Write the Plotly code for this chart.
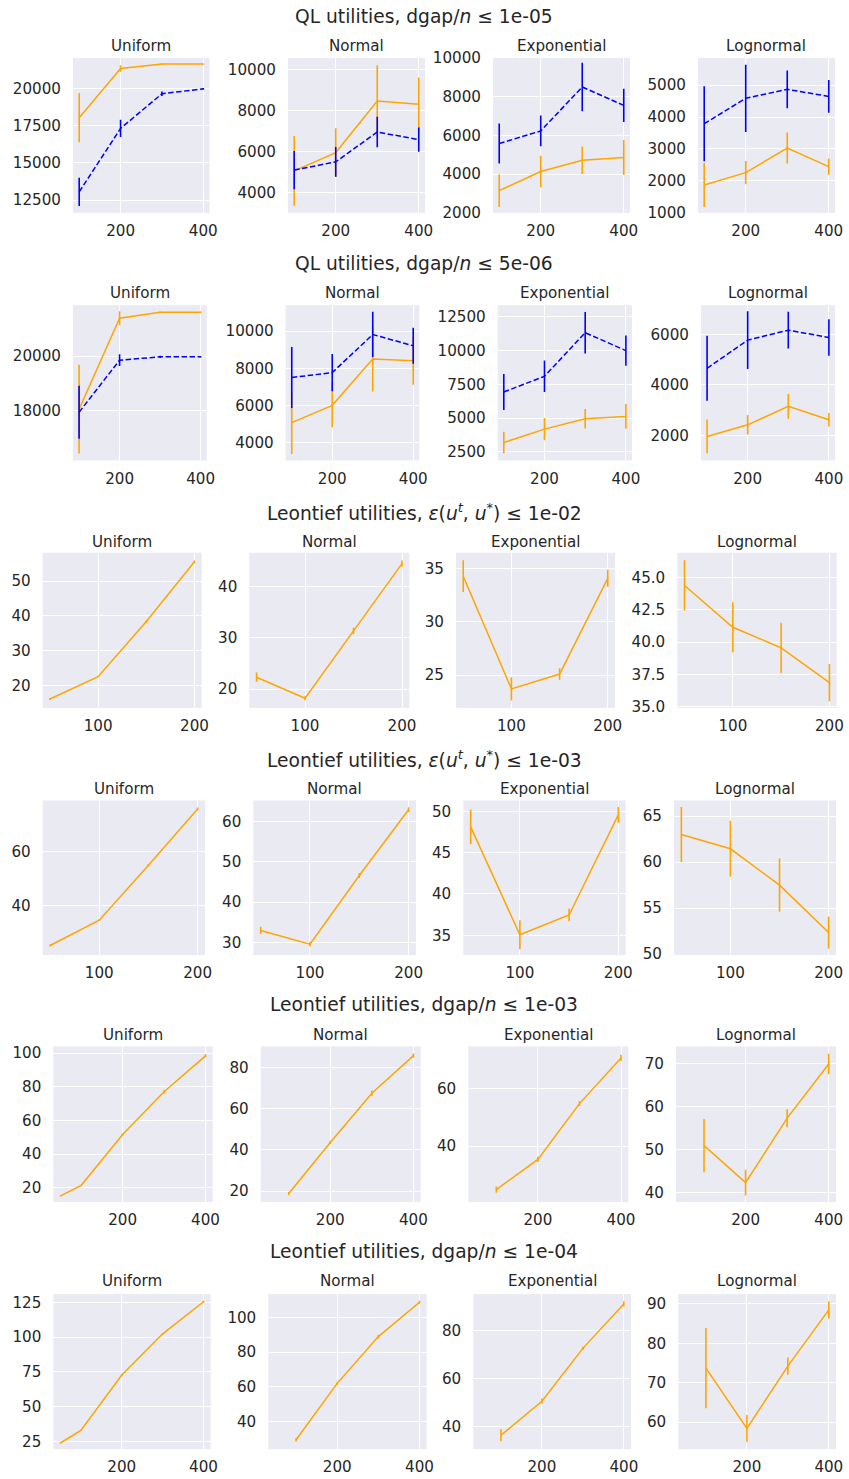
import plotly.graph_objects as go

# ---------------- data ----------------
DISTS = ["Uniform", "Normal", "Exponential", "Lognormal"]
ROW_TITLES = [
    "QL utilities, dgap/<i>n</i> ≤ 1e-05",
    "QL utilities, dgap/<i>n</i> ≤ 5e-06",
    "Leontief utilities, <i>ε</i>(<i>u</i><sup><i>t</i></sup>, <i>u</i><sup>*</sup>) ≤ 1e-02",
    "Leontief utilities, <i>ε</i>(<i>u</i><sup><i>t</i></sup>, <i>u</i><sup>*</sup>) ≤ 1e-03",
    "Leontief utilities, dgap/<i>n</i> ≤ 1e-03",
    "Leontief utilities, dgap/<i>n</i> ≤ 1e-04",
]

x_ql = [100, 200, 300, 400]
x_eps = [50, 100, 150, 200]
x_dgap_uni = [50, 100, 200, 300, 400]
x_dgap = [100, 200, 300, 400]

# Row 1: QL, dgap/n <= 1e-05  (orange solid, blue dashed)
r1_uni_o = [18050, 21370, 21670, 21670]; r1_uni_oe = [1650, 220, 60, 40]
r1_uni_b = [13050, 17330, 19670, 20000]; r1_uni_be = [950, 580, 150, 60]
r1_nor_o = [5060, 5950, 8450, 8300];     r1_nor_oe = [1690, 1180, 1740, 1300]
r1_nor_b = [5100, 5500, 6950, 6580];     r1_nor_be = [925, 725, 740, 590]
r1_exp_o = [3150, 4140, 4720, 4860];     r1_exp_oe = [840, 815, 710, 900]
r1_exp_b = [5580, 6230, 8500, 7550];     r1_exp_be = [1030, 790, 1250, 860]
r1_log_o = [1875, 2260, 3030, 2450];     r1_log_oe = [690, 365, 485, 255]
r1_log_b = [3790, 4585, 4865, 4645];     r1_log_be = [1170, 1050, 590, 510]

# Row 2: QL, dgap/n <= 5e-06
r2_uni_o = [18050, 21390, 21610, 21610]; r2_uni_oe = [1630, 260, 30, 30]
r2_uni_b = [17940, 19850, 19975, 19975]; r2_uni_be = [970, 215, 40, 30]
r2_nor_o = [5070, 6000, 8500, 8410];     r2_nor_oe = [1690, 1200, 1750, 1300]
r2_nor_b = [7500, 7765, 9820, 9210];     r2_nor_be = [1650, 1000, 1220, 970]
r2_exp_o = [3190, 4180, 4950, 5120];     r2_exp_oe = [800, 830, 730, 920]
r2_exp_b = [6930, 8100, 11330, 10000];   r2_exp_be = [1340, 1170, 1540, 1130]
r2_log_o = [1960, 2420, 3150, 2620];     r2_log_oe = [670, 385, 490, 265]
r2_log_b = [4660, 5775, 6170, 5880];     r2_log_be = [1285, 1140, 730, 720]

# Row 3: Leontief, eps <= 1e-02
r3_uni = [16.2, 22.6, 38.4, 55.5];   r3_uni_e = [0.3, 0.2, 0.4, 0.4]
r3_nor = [22.3, 18.2, 31.3, 44.4];   r3_nor_e = [0.9, 0.4, 0.6, 0.6]
r3_exp = [34.3, 23.7, 25.1, 34.1];   r3_exp_e = [1.5, 1.1, 0.55, 0.8]
r3_log = [44.4, 41.15, 39.55, 36.85]; r3_log_e = [1.95, 1.95, 1.95, 1.45]

# Row 4: Leontief, eps <= 1e-03
r4_uni = [25.4, 34.7, 54.9, 75.6];   r4_uni_e = [0.4, 0.3, 0.5, 0.5]
r4_nor = [33.0, 29.6, 46.6, 62.9];   r4_nor_e = [0.9, 0.6, 0.6, 0.6]
r4_exp = [48.1, 35.05, 37.45, 49.55]; r4_exp_e = [2.1, 1.75, 0.75, 0.95]
r4_log = [63.0, 61.45, 57.5, 52.35]; r4_log_e = [3.0, 3.05, 2.9, 1.75]

# Row 5: Leontief, dgap/n <= 1e-03
r5_uni = [15.1, 21.4, 51.6, 77.0, 98.4]; r5_uni_e = [0.3, 0.4, 0.8, 0.9, 1.0]
r5_nor = [18.8, 43.6, 67.5, 85.7];       r5_nor_e = [0.7, 0.8, 1.2, 1.0]
r5_exp = [24.9, 35.4, 54.8, 70.7];       r5_exp_e = [1.1, 0.9, 0.8, 1.1]
r5_log = [50.9, 42.3, 57.3, 69.9];       r5_log_e = [6.2, 3.0, 2.1, 2.4]

# Row 6: Leontief, dgap/n <= 1e-04
r6_uni = [23.8, 32.9, 72.8, 102.4, 125.5]; r6_uni_e = [0.3, 0.5, 0.8, 0.6, 0.8]
r6_nor = [29.4, 61.9, 88.9, 108.7];        r6_nor_e = [1.0, 0.8, 1.1, 0.9]
r6_exp = [36.25, 50.5, 72.6, 91.2];        r6_exp_e = [2.5, 1.1, 0.7, 1.1]
r6_log = [73.7, 58.4, 74.2, 88.5];         r6_log_e = [10.2, 3.4, 2.2, 2.2]

# ---------------- layout config ----------------
W, H = 849, 1479
ORANGE = "#FFA500"
BLUE = "#0000FF"
TXT = "#262626"
BG = "#EAEAF2"
FONT = "DejaVu Sans"
DASH = "5.5px,2.5px"

# correction for the offset/scale observed in the photographed page
OX, OY, SC = 0.0, 8.0, 0.9906


def fx(px):
    return ((px - OX) / SC) / W


def fy(py):
    return 1 - ((py - OY) / SC) / H


def fs(size):
    return size / SC


# pixel boxes (reference pixels): (top, bottom, [(left,right) x4], row-title y, subplot-title y)
ROW_BOX = [
    (57, 212.5, [(73, 209.5), (288, 425), (493, 630), (698, 835)], 15.5, 45),
    (305, 460.7, [(73, 206.7), (285.7, 419.3), (497.7, 632), (701, 835)], 263, 293),
    (553.3, 709, [(42.7, 201.7), (249.3, 409.3), (456, 615), (677.3, 836.7)], 512, 542),
    (801.7, 956.7, [(42.7, 205), (253.3, 416), (463.3, 625.7), (674, 836)], 760, 790),
    (1048.3, 1204.3, [(53.3, 212.7), (260.7, 420.7), (468.3, 628.3), (676, 836)], 1006, 1037),
    (1296.7, 1452.3, [(53.3, 210.7), (268.3, 426.7), (473.3, 631), (678.3, 836)], 1254, 1284),
]
XRANGE = [[85, 415], [85, 415], [42.5, 207.5], [42.5, 207.5], [32.5, 417.5], [32.5, 417.5]]
XDTICK = [200, 200, 100, 100, 200, 200]
YRANGE = [
    [[11630, 22090], [3020, 10550], [2000, 10000], [1000, 5850]],
    [[16170, 21870], [3030, 11400], [1860, 13370], [1010, 7160]],
    [[13.6, 58.1], [16.3, 46.5], [21.9, 36.5], [34.87, 46.94]],
    [[21.9, 78.7], [26.9, 65.2], [32.6, 51.3], [49.9, 66.7]],
    [[11.5, 104], [14.7, 90.2], [20.6, 74.7], [37.8, 74]],
    [[19.3, 131], [23.9, 113.4], [30.4, 95.3], [53.1, 92.5]],
]
YDTICK = [
    [2500, 2000, 2000, 1000],
    [2000, 2000, 2500, 2000],
    [10, 10, 5, 2.5],
    [20, 10, 5, 5],
    [20, 20, 20, 10],
    [25, 20, 20, 10],
]
YFMT = [["d"] * 4, ["d"] * 4, ["d", "d", "d", ".1f"], ["d"] * 4, ["d"] * 4, ["d"] * 4]

# series table: per panel, list of (x, y, err, color, dash)
PANELS = [
    [[(x_ql, r1_uni_o, r1_uni_oe, ORANGE, "solid"), (x_ql, r1_uni_b, r1_uni_be, BLUE, DASH)],
     [(x_ql, r1_nor_o, r1_nor_oe, ORANGE, "solid"), (x_ql, r1_nor_b, r1_nor_be, BLUE, DASH)],
     [(x_ql, r1_exp_o, r1_exp_oe, ORANGE, "solid"), (x_ql, r1_exp_b, r1_exp_be, BLUE, DASH)],
     [(x_ql, r1_log_o, r1_log_oe, ORANGE, "solid"), (x_ql, r1_log_b, r1_log_be, BLUE, DASH)]],
    [[(x_ql, r2_uni_o, r2_uni_oe, ORANGE, "solid"), (x_ql, r2_uni_b, r2_uni_be, BLUE, DASH)],
     [(x_ql, r2_nor_o, r2_nor_oe, ORANGE, "solid"), (x_ql, r2_nor_b, r2_nor_be, BLUE, DASH)],
     [(x_ql, r2_exp_o, r2_exp_oe, ORANGE, "solid"), (x_ql, r2_exp_b, r2_exp_be, BLUE, DASH)],
     [(x_ql, r2_log_o, r2_log_oe, ORANGE, "solid"), (x_ql, r2_log_b, r2_log_be, BLUE, DASH)]],
    [[(x_eps, r3_uni, r3_uni_e, ORANGE, "solid")], [(x_eps, r3_nor, r3_nor_e, ORANGE, "solid")],
     [(x_eps, r3_exp, r3_exp_e, ORANGE, "solid")], [(x_eps, r3_log, r3_log_e, ORANGE, "solid")]],
    [[(x_eps, r4_uni, r4_uni_e, ORANGE, "solid")], [(x_eps, r4_nor, r4_nor_e, ORANGE, "solid")],
     [(x_eps, r4_exp, r4_exp_e, ORANGE, "solid")], [(x_eps, r4_log, r4_log_e, ORANGE, "solid")]],
    [[(x_dgap_uni, r5_uni, r5_uni_e, ORANGE, "solid")], [(x_dgap, r5_nor, r5_nor_e, ORANGE, "solid")],
     [(x_dgap, r5_exp, r5_exp_e, ORANGE, "solid")], [(x_dgap, r5_log, r5_log_e, ORANGE, "solid")]],
    [[(x_dgap_uni, r6_uni, r6_uni_e, ORANGE, "solid")], [(x_dgap, r6_nor, r6_nor_e, ORANGE, "solid")],
     [(x_dgap, r6_exp, r6_exp_e, ORANGE, "solid")], [(x_dgap, r6_log, r6_log_e, ORANGE, "solid")]],
]

fig = go.Figure()
layout = dict(
    width=W, height=H, margin=dict(l=0, r=0, t=0, b=0),
    paper_bgcolor="white", plot_bgcolor=BG, showlegend=False,
    font=dict(family=FONT, color=TXT, size=fs(15)),
)
annotations = []

k = 0
for r in range(6):
    top, bottom, cols, ty, sty = ROW_BOX[r]
    annotations.append(dict(text=ROW_TITLES[r], x=fx(424.5), y=fy(ty), xref="paper", yref="paper",
                            xanchor="center", yanchor="middle", showarrow=False,
                            font=dict(size=fs(18.5), family=FONT, color=TXT)))
    for c in range(4):
        k += 1
        left, right = cols[c]
        xa = "xaxis" if k == 1 else f"xaxis{k}"
        ya = "yaxis" if k == 1 else f"yaxis{k}"
        xref = "x" if k == 1 else f"x{k}"
        yref = "y" if k == 1 else f"y{k}"
        layout[xa] = dict(domain=[fx(left), fx(right)], anchor=yref, range=XRANGE[r],
                          tick0=0, dtick=XDTICK[r], showgrid=True, gridcolor="white", gridwidth=1,
                          zeroline=False, showline=False, ticks="outside", ticklen=4,
                          tickcolor="rgba(0,0,0,0)", tickfont=dict(size=fs(15), color=TXT, family=FONT))
        layout[ya] = dict(domain=[fy(bottom), fy(top)], anchor=xref, range=YRANGE[r][c],
                          tick0=0, dtick=YDTICK[r][c], tickformat=YFMT[r][c],
                          showgrid=True, gridcolor="white", gridwidth=1,
                          zeroline=False, showline=False, ticks="outside", ticklen=8,
                          tickcolor="rgba(0,0,0,0)", tickfont=dict(size=fs(15), color=TXT, family=FONT))
        annotations.append(dict(text=DISTS[c], x=fx((left + right) / 2), y=fy(sty),
                                xref="paper", yref="paper", xanchor="center", yanchor="middle",
                                showarrow=False, font=dict(size=fs(15), family=FONT, color=TXT)))
        for (xs, ys, es, color, dash) in PANELS[r][c]:
            fig.add_trace(go.Scatter(
                x=xs, y=ys, mode="lines", xaxis=xref, yaxis=yref,
                line=dict(color=color, width=1.5, dash=dash),
                error_y=dict(type="data", array=es, visible=True, color=color, thickness=1.6, width=0),
                hoverinfo="skip"))

layout["annotations"] = annotations
fig.update_layout(**layout)

RESET_JS = (
    "var s=document.createElement('style');"
    "s.textContent='html,body{margin:0!important;padding:0!important;overflow:hidden!important;}';"
    "document.head.appendChild(s);"
)
fig.write_html("out.html", config={"displayModeBar": False, "staticPlot": True}, post_script=RESET_JS)
